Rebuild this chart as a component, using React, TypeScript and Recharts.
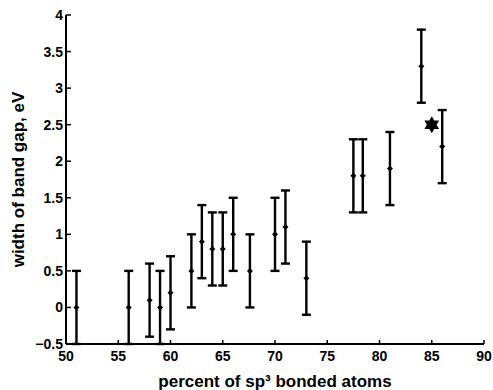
import React from "react"
import {
  ScatterChart,
  Scatter,
  XAxis,
  YAxis,
  ErrorBar,
} from "recharts"

// percent of sp3 bonded atoms for each sample
const SP3_PERCENT = [51, 56, 58, 59, 60, 62, 63, 64, 65, 66, 67.6, 70, 71, 73, 77.5, 78.4, 81, 84, 86]
// measured band gap width, eV
const BAND_GAP = [0, 0, 0.1, 0, 0.2, 0.5, 0.9, 0.8, 0.8, 1.0, 0.5, 1.0, 1.1, 0.4, 1.8, 1.8, 1.9, 3.3, 2.2]
// uncertainty on each gap, eV
const GAP_ERROR = [0.5, 0.5, 0.5, 0.5, 0.5, 0.5, 0.5, 0.5, 0.5, 0.5, 0.5, 0.5, 0.5, 0.5, 0.5, 0.5, 0.5, 0.5, 0.5]

// reference point drawn as a star
const REF_SP3 = [85]
const REF_GAP = [2.5]

const X_TICKS = [50, 55, 60, 65, 70, 75, 80, 85, 90]
const Y_TICKS = [-0.5, 0, 0.5, 1, 1.5, 2, 2.5, 3, 3.5, 4]

const FONT = "'Liberation Sans', Arial, Helvetica, sans-serif"

const measured = SP3_PERCENT.map((x, i) => ({ x, y: BAND_GAP[i], err: GAP_ERROR[i] }))
const reference = REF_SP3.map((x, i) => ({ x, y: REF_GAP[i] }))

const fmt = (v: number) => (v < 0 ? `\u2212${Math.abs(v)}` : `${v}`)

// ticks point into the plot, labels sit outside
function XTick({ x, y, payload }: any) {
  const axisY = y - 7
  return (
    <g>
      <line x1={x} y1={axisY} x2={x} y2={axisY - 4} stroke="#000" strokeWidth={1.5} />
      <text x={x} y={y} dy="0.71em" textAnchor="middle" fontFamily={FONT} fontWeight={700} fontSize={14} fill="#000">
        {fmt(payload.value)}
      </text>
    </g>
  )
}

function YTick({ x, y, payload }: any) {
  const axisX = x + 3
  return (
    <g>
      <line x1={axisX} y1={y} x2={axisX + 5} y2={y} stroke="#000" strokeWidth={1.5} />
      <text x={x} y={y} dy="0.36em" textAnchor="end" fontFamily={FONT} fontWeight={700} fontSize={14} fill="#000">
        {fmt(payload.value)}
      </text>
    </g>
  )
}

function Diamond({ cx, cy }: any) {
  const r = 3
  return <path d={`M${cx},${cy - r}L${cx + r},${cy}L${cx},${cy + r}L${cx - r},${cy}Z`} fill="#000" />
}

function Hexagram({ cx, cy }: any) {
  const r = 8.5
  const tri = (start: number) =>
    [0, 1, 2]
      .map((k) => {
        const a = ((start + k * 120) * Math.PI) / 180
        return `${k === 0 ? "M" : "L"}${cx + r * Math.cos(a)},${cy + r * Math.sin(a)}`
      })
      .join("") + "Z"
  return <path d={tri(-90) + tri(90)} fill="#000" />
}

export default function App() {
  return (
    <div style={{ position: "absolute", left: 0, top: 0, width: 493, height: 390, background: "#fff" }}>
      <ScatterChart width={493} height={390} margin={{ top: 15, right: 9, bottom: 0, left: 0 }}>
        <XAxis
          type="number"
          dataKey="x"
          domain={[50, 90]}
          ticks={X_TICKS}
          interval={0}
          height={46}
          axisLine={{ stroke: "#000", strokeWidth: 2 }}
          tickLine={false}
          tickSize={0}
          tickMargin={7}
          tick={<XTick />}
          label={{
            value: "percent of sp\u00B3 bonded atoms",
            position: "insideBottom",
            offset: 3,
            fontFamily: FONT,
            fontWeight: "bold",
            fontSize: 17,
            fill: "#000",
          }}
        />
        <YAxis
          type="number"
          dataKey="y"
          domain={[-0.5, 4]}
          ticks={Y_TICKS}
          interval={0}
          width={66}
          axisLine={{ stroke: "#000", strokeWidth: 2 }}
          tickLine={false}
          tickSize={0}
          tickMargin={3}
          tick={<YTick />}
          label={{
            value: "width of band gap, eV",
            angle: -90,
            position: "insideLeft",
            offset: 18,
            style: { textAnchor: "middle" },
            fontFamily: FONT,
            fontWeight: "bold",
            fontSize: 17,
            fill: "#000",
          }}
        />
        <Scatter data={measured} shape={<Diamond />} isAnimationActive={false}>
          <ErrorBar dataKey="err" direction="y" width={4.5} stroke="#000" strokeWidth={2.4} isAnimationActive={false} />
        </Scatter>
        <Scatter data={reference} shape={<Hexagram />} isAnimationActive={false} />
      </ScatterChart>
    </div>
  )
}
